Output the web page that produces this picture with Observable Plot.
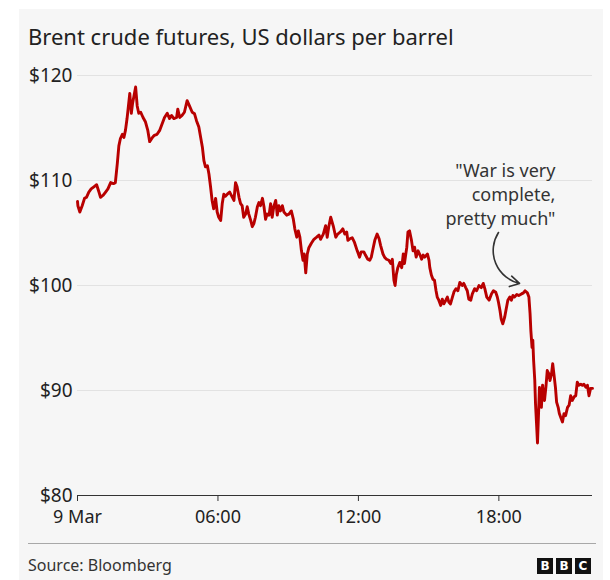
<!DOCTYPE html>
<html>
<head>
<meta charset="utf-8">
<script src="https://cdn.jsdelivr.net/npm/d3@7"></script>
<script src="https://cdn.jsdelivr.net/npm/@observablehq/plot@0.6"></script>
<style>
  html, body { margin: 0; padding: 0; background: #ffffff; }
  #panel { position: absolute; left: 19px; top: 9px; width: 584px; height: 571px; background: #f6f6f6;
           font-family: "Noto Sans", "Open Sans", sans-serif; color: #222; }
  #title { position: absolute; left: 9px; top: 16px; font-size: 22px; line-height: 22px; white-space: nowrap; color: #222; }
  #chart { position: absolute; left: 0; top: 51px; }
  #sep { position: absolute; left: 9px; top: 534px; width: 568px; height: 1px; background: #a8a8a8; }
  #source { position: absolute; left: 9px; top: 548px; font-size: 16px; line-height: 16px; color: #333; }
  #logo { position: absolute; left: 518px; top: 549px; display: flex; gap: 3px; }
  #logo span { display: block; width: 16px; height: 16px; background: #111; color: #fff; font: bold 12px/16px "DejaVu Sans", sans-serif; text-align: center; }
</style>
</head>
<body>
<div id="panel">
  <div id="title"></div>
  <div id="chart"></div>
  <div id="sep"></div>
  <div id="source"></div>
  <div id="logo"><span>B</span><span>B</span><span>C</span></div>
</div>
<script>
// ---- Data (Brent crude futures, 9 March, US$ per barrel) ----
const titleText = "Brent crude futures, US dollars per barrel";
const sourceText = "Source: Bloomberg";

// minutes after midnight on 9 March
const minutes = [
  0,1,6,12,18,23,29,35,42,49,55,59,66,72,78,85,92,97,102,106,
  110,115,119,123,127,132,134,138,141,144,149,153,157,162,168,174,180,185,192,197,
  204,211,217,223,230,236,241,247,254,257,262,268,274,281,287,294,300,305,311,
  320,324,328,333,337,341,345,349,354,358,362,367,371,375,379,384,390,397,401,405,
  409,414,418,422,426,431,435,439,444,448,452,456,461,465,469,474,478,482,486,491,
  495,499,503,508,512,516,520,525,529,536,542,548,553,557,562,566,570,574,578,581,
  585,589,593,599,606,613,619,623,630,636,640,644,
  649,656,662,667,674,680,685,690,693,698,704,710,717,723,727,734,738,744,749,753,
  758,762,768,773,777,783,787,792,798,803,807,811,814,817,821,826,831,835,838,844,
  847,851,856,860,864,868,873,878,882,886,890,897,901,903,907,911,915,919,922,926,
  931,935,939,944,948,952,956,961,965,970,975,980,
  982,986,990,995,999,1003,1008,1012,1018,1023,1029,1035,1040,1044,1049,1055,1061,1066,1072,1076,
  1079,1083,1086,1090,1095,1099,1103,1108,1112,1116,1120,1126,1131,1138,1143,1147,1153,1157,1160,1162,
  1165,1167,1169,1172,1174,1177,1179,1182,1184,1186,1189,1192,1194,1197,1201,1204,1208,1211,1215,1218,
  1221,1225,1228,1232,1235,1238,1243,1247,1251,1256,1260,1264,1268,1273,1277,1281,1285,1290,1294,1298,
  1303,1307,1311,1315,1320
];
const prices = [
  108.0,107.6,107.0,107.6,108.3,108.4,108.9,109.2,109.4,109.6,108.9,108.4,108.6,108.9,109.2,109.8,109.7,109.8,111.6,113.3,
  114.0,114.4,114.1,114.8,115.9,117.6,118.3,116.4,117.3,117.9,118.9,117.1,116.4,116.5,116.0,115.6,114.8,113.7,114.1,114.3,
  114.4,114.8,115.4,116.0,116.4,115.9,116.2,115.9,116.0,116.8,116.0,116.2,116.5,117.6,117.1,116.5,116.35,115.7,115.1,
  113.2,111.9,111.3,111.4,110.6,109.4,108.1,107.3,108.3,107.0,106.5,106.2,107.8,108.7,108.5,108.7,108.9,108.4,108.1,109.8,
  109.4,108.4,107.8,107.6,106.5,106.8,107.5,106.8,106.2,105.6,105.9,106.5,107.5,107.9,107.6,108.3,107.5,106.3,106.8,106.7,
  107.8,106.5,107.5,108.1,106.7,107.6,107.1,107.6,107.0,106.7,106.8,107.1,106.35,105.4,104.6,105.2,104.6,103.3,102.4,103.0,
  101.2,103.0,103.6,104.0,104.4,104.6,104.8,104.4,104.9,105.7,104.6,105.6,
  106.5,105.6,104.6,104.9,105.1,105.4,104.9,105.1,104.3,104.45,104.55,104.1,103.3,102.7,103.2,103.2,102.9,102.5,102.4,102.7,
  103.6,104.3,104.9,104.45,103.8,103.0,102.7,102.5,102.4,102.1,102.5,100.5,100.0,101.0,101.7,102.2,101.7,103.0,102.1,103.65,
  105.1,105.2,104.3,103.3,103.65,102.7,103.3,102.9,102.5,102.9,102.7,103.0,102.4,101.7,101.0,100.6,100.5,99.5,98.9,98.6,
  98.1,98.7,98.25,98.6,98.9,98.4,98.25,98.9,99.4,99.7,99.5,100.3,
  100.2,100.0,100.2,99.8,99.5,98.7,98.6,99.2,99.7,99.5,100.0,99.8,100.2,99.7,98.9,98.6,99.2,99.5,99.35,98.9,
  98.4,97.6,96.8,96.35,97.0,97.8,98.6,98.9,98.6,99.05,98.9,99.15,99.05,99.2,99.3,99.5,99.3,98.9,97.3,95.7,
  94.1,94.8,92.9,91.0,88.7,86.5,85.0,88.1,90.3,89.05,88.4,90.5,89.7,89.05,90.5,91.9,91.6,90.95,91.6,92.55,
  91.6,90.3,88.9,88.4,87.8,87.5,87.0,87.8,87.6,88.4,88.6,89.5,89.05,89.4,89.5,90.8,90.5,90.6,90.5,90.6,
  90.3,90.5,89.5,90.2,90.2
];

const xTickMinutes = [0, 360, 720, 1080];
const xTickLabels = ["9 Mar", "06:00", "12:00", "18:00"];
const xDomainMinutes = [0, 1320];
const yTicks = [80, 90, 100, 110, 120];

const annotationText = "\"War is very\ncomplete,\npretty much\"";
const annotationMinute = 1225;
const annotationPrice = 108.75;
const arrowFrom = { minute: 1079, price: 105.05 };
const arrowTo = { minute: 1133, price: 100.2 };

// ---- Build ----
const base = Date.UTC(2026, 2, 9);
const toDate = m => new Date(base + m * 60000);
const data = minutes.map((m, i) => ({ t: toDate(m), p: prices[i] }));
const labelByTime = new Map(xTickMinutes.map((m, i) => [+toDate(m), xTickLabels[i]]));

document.getElementById("title").textContent = titleText;
document.getElementById("source").textContent = sourceText;

const chart = Plot.plot({
  width: 584,
  height: 470,
  marginLeft: 58,
  marginRight: 11,
  marginTop: 15,
  marginBottom: 35,
  style: { background: "transparent", fontFamily: "'Noto Sans', 'Open Sans', sans-serif", fontSize: "18px", color: "#222", overflow: "visible" },
  x: { type: "utc", domain: xDomainMinutes.map(toDate), label: null },
  y: { domain: [yTicks[0], yTicks[yTicks.length - 1]], label: null },
  marks: [
    Plot.gridY(yTicks.slice(1), { stroke: "#e2e2e2", strokeOpacity: 1, strokeWidth: 1 }),
    Plot.axisY(yTicks, { tickSize: 0, tickPadding: 5, tickFormat: d => "$" + d, fontSize: 19, fill: "#222", label: null }),
    Plot.ruleY([yTicks[0]], { stroke: "#333", strokeWidth: 1 }),
    Plot.axisX(xTickMinutes.map(toDate), { tickSize: 6, tickPadding: 9, stroke: "#333", tickFormat: d => labelByTime.get(+d), fontSize: 18, fill: "#222", label: null }),
    Plot.line(data, { x: "t", y: "p", stroke: "#b80000", strokeWidth: 2.9, strokeLinejoin: "round", curve: "linear" }),
    Plot.text([annotationText], { x: () => toDate(annotationMinute), y: () => annotationPrice, text: d => d, textAnchor: "end", lineAnchor: "middle", lineHeight: 1.33, fontSize: 18, fill: "#333" }),
    Plot.arrow([0], { x1: () => toDate(arrowFrom.minute), y1: () => arrowFrom.price, x2: () => toDate(arrowTo.minute), y2: () => arrowTo.price, bend: -55, headLength: 10, stroke: "#333", strokeWidth: 1.6, inset: 0 })
  ]
});
document.getElementById("chart").appendChild(chart);
</script>
</body>
</html>
